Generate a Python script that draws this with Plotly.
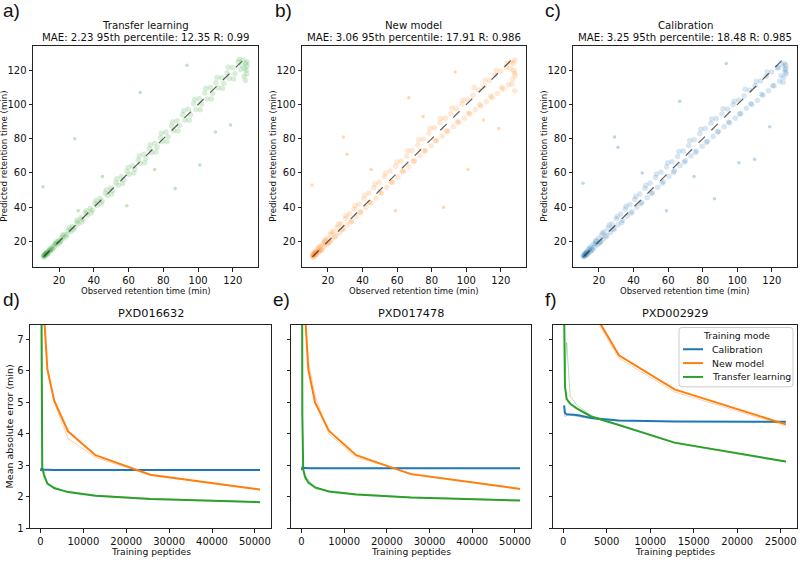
import plotly.graph_objects as go

W, H = 800, 563


def px(x):
    return x / W


def py(y):
    return 1 - y / H


# ---------------- top row: observed vs predicted retention time ----------------
# main band of peptides
OBS = [11.0, 11.2, 11.5, 11.8, 12.0, 12.4, 12.7, 13.0, 13.4, 13.9, 14.3, 14.9, 15.4, 16.0, 16.7, 17.3,
       18.1, 18.9, 19.7, 20.6, 21.5, 22.4, 23.2, 24.5, 25.3, 26.6, 27.5, 28.9, 30.1, 31.0, 32.6, 33.7,
       35.2, 36.3, 37.9, 39.1, 40.7, 41.9, 43.6, 44.8, 46.6, 47.9, 49.6, 50.8, 52.7, 54.0, 55.9, 57.2,
       59.1, 60.4, 62.3, 63.6, 65.5, 66.8, 68.7, 70.0, 71.9, 73.2, 75.1, 76.4, 78.3, 79.6, 81.5, 82.8,
       84.7, 86.0, 87.9, 89.2, 91.1, 92.4, 94.3, 95.6, 97.5, 98.8, 100.7, 102.0, 103.9, 105.2, 107.1,
       108.4, 110.3, 111.6, 113.5, 114.8, 116.7, 118.0, 119.9, 121.2, 123.1, 124.4, 125.9, 126.8,
       127.5, 128.0, 128.3, 127.2,
       12.1, 13.2, 14.6, 16.3, 18.5, 20.1, 22.0, 24.0, 26.0, 28.2, 30.5, 33.0, 35.7, 38.5, 41.3, 44.2,
       47.2, 50.2, 53.3, 56.5, 59.8, 63.0, 66.2, 69.3, 72.5, 75.7, 78.9, 82.1, 85.3, 88.5, 91.7, 94.9,
       98.1, 101.3, 104.5, 107.7, 110.9, 114.1, 117.3, 120.5, 123.7, 126.5, 128.1, 127.7, 125.3,
       11.4, 12.9, 15.1, 17.8, 21.0]

PRED_TL = [11.3, 10.9, 11.9, 11.5, 12.6, 12.1, 13.2, 12.8, 14.0, 13.6, 14.9, 14.6, 16.1, 15.7, 17.5, 16.9,
           19.0, 18.5, 20.6, 20.0, 22.5, 21.8, 24.3, 23.9, 26.5, 25.8, 28.7, 28.0, 31.4, 30.2, 34.0, 32.9,
           36.6, 35.4, 39.3, 38.2, 42.2, 41.0, 45.1, 43.7, 48.2, 46.8, 51.3, 49.8, 54.5, 52.9, 57.8, 56.0,
           61.0, 59.3, 64.3, 62.4, 67.6, 65.5, 70.9, 68.6, 74.2, 71.8, 77.4, 75.1, 80.6, 78.2, 84.0, 81.3,
           87.4, 84.7, 90.6, 87.8, 94.0, 90.9, 97.2, 94.0, 100.5, 97.1, 103.6, 100.2, 106.8, 103.3, 109.9,
           106.4, 112.8, 109.6, 115.6, 112.4, 118.6, 115.2, 121.5, 118.0, 124.8, 120.5, 126.0, 121.0,
           124.0, 118.0, 122.5, 114.0,
           12.9, 12.5, 15.6, 15.5, 19.8, 19.0, 23.6, 22.8, 27.8, 26.8, 32.6, 31.3, 38.0, 36.6, 44.0, 42.0,
           50.2, 47.8, 56.6, 53.8, 63.4, 60.0, 70.0, 66.0, 76.5, 72.2, 83.2, 78.4, 89.8, 84.6, 96.4, 90.8,
           103.0, 97.0, 109.5, 103.2, 115.8, 109.5, 121.8, 115.0, 126.5, 116.5, 125.0, 120.0, 123.0,
           12.0, 13.6, 14.4, 18.6, 20.2]

PRED_NEW = [11.6, 10.8, 12.3, 11.2, 13.0, 11.9, 13.8, 12.5, 14.6, 13.2, 15.6, 14.1, 17.0, 15.2, 18.4, 16.5,
            20.1, 17.9, 21.9, 19.5, 24.0, 21.2, 25.8, 23.4, 28.2, 25.1, 30.4, 27.3, 33.5, 29.8, 36.2, 32.1,
            39.0, 34.6, 41.8, 37.2, 45.0, 39.8, 48.3, 42.5, 51.4, 45.4, 54.6, 48.2, 57.9, 51.5, 61.1, 54.6,
            64.0, 57.6, 66.8, 60.9, 69.9, 63.8, 73.0, 67.0, 76.4, 70.1, 79.8, 73.0, 83.2, 75.9, 86.4, 78.8,
            89.3, 81.6, 92.0, 84.4, 94.6, 87.0, 97.5, 89.6, 100.3, 92.0, 103.0, 94.5, 105.4, 97.0, 108.5,
            99.2, 111.0, 101.6, 114.0, 104.0, 117.2, 106.5, 119.5, 109.0, 121.8, 111.5, 125.0, 115.0,
            120.0, 108.0, 117.0, 124.0,
            13.4, 12.2, 16.4, 15.0, 21.0, 18.6, 25.4, 22.6, 30.0, 26.9, 35.0, 31.2, 41.0, 37.0, 47.0, 42.8,
            53.5, 48.8, 60.0, 54.8, 66.5, 61.0, 73.0, 67.0, 79.5, 73.0, 86.0, 79.0, 92.0, 84.5, 98.0, 90.0,
            102.5, 95.0, 110.0, 100.0, 114.0, 105.0, 120.0, 110.0, 124.0, 112.0, 126.0, 118.5, 121.0,
            12.3, 13.9, 14.2, 19.5, 20.0]

PRED_CAL = [11.5, 11.0, 12.2, 11.4, 12.9, 12.0, 13.7, 12.6, 14.6, 13.4, 15.6, 14.2, 16.9, 15.3, 18.3, 16.6,
            20.0, 18.0, 21.8, 19.6, 23.8, 21.3, 25.6, 23.5, 27.9, 25.3, 30.2, 27.4, 33.3, 29.8, 36.0, 32.2,
            38.8, 34.8, 41.6, 37.4, 44.6, 40.0, 47.8, 42.7, 51.0, 45.5, 54.1, 48.4, 57.4, 51.7, 60.5, 54.9,
            63.6, 58.0, 66.6, 61.2, 69.6, 64.3, 72.8, 67.2, 76.1, 70.0, 79.5, 72.9, 82.9, 75.6, 86.0, 78.5,
            89.0, 81.3, 91.8, 84.3, 94.5, 87.0, 97.4, 89.4, 100.0, 92.0, 102.6, 94.8, 105.2, 97.8, 108.4,
            100.0, 111.2, 102.4, 113.8, 105.5, 116.5, 108.0, 119.0, 111.0, 121.5, 113.6, 123.3, 116.0,
            120.5, 121.0, 118.0, 124.0,
            13.0, 12.4, 16.0, 15.2, 20.6, 18.8, 25.0, 22.8, 29.6, 27.0, 34.6, 31.0, 40.5, 36.5, 46.4, 42.0,
            52.8, 48.0, 59.4, 54.0, 66.0, 60.5, 72.5, 66.5, 79.0, 72.0, 85.5, 78.0, 91.5, 84.0, 97.5, 89.8,
            102.0, 94.5, 109.0, 100.5, 113.5, 106.0, 119.0, 111.0, 121.5, 113.0, 123.0, 119.0, 117.0,
            12.0, 13.6, 14.3, 19.0, 20.0]

# scattered outlier peptides
OUT_OBS = [29.0, 66.7, 93.6, 118.7, 101.0, 86.8, 59.0, 10.8, 45.0, 110.0, 31.0, 75.0]
OUT_TL = [80.0, 107.0, 123.0, 88.0, 64.7, 51.0, 40.8, 52.0, 58.0, 84.0, 38.0, 62.0]
OUT_NEW = [81.0, 104.0, 119.0, 86.0, 62.0, 40.0, 38.0, 53.0, 62.0, 91.0, 71.0, 93.0]
OUT_CAL = [81.0, 102.0, 124.0, 87.0, 66.0, 45.0, 38.0, 54.0, 60.0, 68.0, 75.0, 58.0]

DIAG = [11.0, 129.0]

SCATTER_TITLES = ["Transfer learning", "New model", "Calibration"]
SCATTER_STATS = ["MAE: 2.23 95th percentile: 12.35 R: 0.99",
                 "MAE: 3.06 95th percentile: 17.91 R: 0.986",
                 "MAE: 3.25 95th percentile: 18.48 R: 0.985"]
RT_TICKS = [20, 40, 60, 80, 100, 120]

# ---------------- bottom row: learning curves ----------------
MODES = ["Calibration", "New model", "Transfer learning"]
X_DE = [100, 200, 400, 800, 1600, 3200, 6400, 12800, 25600, 51200]
X_F = [100, 200, 400, 800, 1600, 3200, 6400, 12800, 25600]

D_CAL = [2.82, 2.90, 2.87, 2.86, 2.86, 2.85, 2.85, 2.85, 2.85, 2.85]
D_NEW = [20.0, 15.0, 11.0, 7.8, 6.05, 5.05, 4.08, 3.32, 2.70, 2.23]
D_TL = [12.0, 5.0, 2.95, 2.70, 2.42, 2.28, 2.15, 2.03, 1.93, 1.83]
D_CAL_REP = [2.95, 2.88, 2.86, 2.85, 2.85, 2.84, 2.84, 2.84, 2.84, 2.84]
D_NEW_REP = [19.0, 14.0, 10.5, 7.6, 5.95, 5.0, 3.85, 3.25, 2.68, 2.22]
D_TL_REP = [11.0, 4.2, 3.0, 2.6, 2.45, 2.25, 2.17, 2.05, 1.95, 1.84]

E_CAL = [2.85, 2.95, 2.92, 2.91, 2.91, 2.91, 2.91, 2.91, 2.91, 2.91]
E_NEW = [20.0, 15.0, 11.0, 7.9, 6.04, 4.99, 4.10, 3.32, 2.72, 2.25]
E_TL = [12.0, 4.6, 2.88, 2.65, 2.45, 2.30, 2.17, 2.07, 1.98, 1.88]
E_CAL_REP = [3.0, 2.97, 2.93, 2.92, 2.91, 2.91, 2.90, 2.90, 2.90, 2.90]
E_NEW_REP = [19.0, 14.5, 10.8, 8.1, 6.3, 5.2, 4.0, 3.25, 2.75, 2.26]
E_TL_REP = [11.0, 4.4, 2.95, 2.55, 2.55, 2.25, 2.19, 2.09, 1.99, 1.89]

F_CAL = [4.90, 4.66, 4.62, 4.62, 4.60, 4.50, 4.42, 4.39, 4.38]
F_NEW = [25.0, 20.0, 16.0, 12.5, 10.0, 8.0, 6.49, 5.41, 4.30]
F_TL = [8.0, 5.5, 5.1, 4.95, 4.80, 4.55, 4.28, 3.72, 3.12]
F_CAL_REP = [4.75, 4.55, 4.58, 4.60, 4.55, 4.48, 4.41, 4.39, 4.38]
F_NEW_REP = [24.0, 19.0, 15.0, 12.0, 9.8, 7.9, 6.4, 5.33, 4.25]
F_TL_REP = [7.9, 5.9, 6.9, 5.2, 4.9, 4.58, 4.27, 3.70, 3.10]

CURVE_TITLES = ["PXD016632", "PXD017478", "PXD002929"]
MAE_TICKS = [1, 2, 3, 4, 5, 6, 7]
XT_DE = [0, 10000, 20000, 30000, 40000, 50000]
XT_F = [0, 5000, 10000, 15000, 20000, 25000]

COLORS = {"Calibration": "#1f77b4", "New model": "#ff7f0e", "Transfer learning": "#2ca02c"}
FADED = {"Calibration": "rgba(31,119,180,0.35)", "New model": "rgba(255,127,14,0.35)",
         "Transfer learning": "rgba(44,160,44,0.35)"}
SCAT_RGB = ["44,160,44", "255,127,14", "31,119,180"]

FONT = "DejaVu Sans"

# axis pixel boxes (left, right, top, bottom)
TOP_BOXES = [(33, 258), (302, 526), (573, 797)]
TOP_Y = (46, 270)
BOT_BOXES = [(30, 271), (291, 531), (553, 797)]
BOT_Y = (328, 534)

fig = go.Figure()

preds = [PRED_TL, PRED_NEW, PRED_CAL]
outs = [OUT_TL, OUT_NEW, OUT_CAL]
for i in range(3):
    xa = "x" if i == 0 else f"x{i + 1}"
    ya = "y" if i == 0 else f"y{i + 1}"
    fig.add_trace(go.Scatter(x=OBS, y=preds[i], mode="markers", xaxis=xa, yaxis=ya,
                             marker=dict(size=5.5, color=f"rgba({SCAT_RGB[i]},0.18)", line=dict(width=0)),
                             showlegend=False, hoverinfo="skip"))
    fig.add_trace(go.Scatter(x=OUT_OBS, y=outs[i], mode="markers", xaxis=xa, yaxis=ya,
                             marker=dict(size=3.5, color=f"rgba({SCAT_RGB[i]},0.3)", line=dict(width=0)),
                             showlegend=False, hoverinfo="skip"))
    fig.add_trace(go.Scatter(x=DIAG, y=DIAG, mode="lines", xaxis=xa, yaxis=ya,
                             line=dict(color="rgba(40,40,40,0.75)", width=1.2, dash="dash"),
                             showlegend=False, hoverinfo="skip"))

panels = [
    (X_DE, {"Calibration": (D_CAL, D_CAL_REP), "New model": (D_NEW, D_NEW_REP),
            "Transfer learning": (D_TL, D_TL_REP)}),
    (X_DE, {"Calibration": (E_CAL, E_CAL_REP), "New model": (E_NEW, E_NEW_REP),
            "Transfer learning": (E_TL, E_TL_REP)}),
    (X_F, {"Calibration": (F_CAL, F_CAL_REP), "New model": (F_NEW, F_NEW_REP),
           "Transfer learning": (F_TL, F_TL_REP)}),
]
for j, (xs, series) in enumerate(panels):
    xa = f"x{j + 4}"
    ya = f"y{j + 4}"
    for m in MODES:
        main, rep = series[m]
        fig.add_trace(go.Scatter(x=xs, y=rep, mode="lines", xaxis=xa, yaxis=ya,
                                 line=dict(color=FADED[m], width=1), showlegend=False,
                                 hoverinfo="skip"))
    for m in MODES:
        main, rep = series[m]
        fig.add_trace(go.Scatter(x=xs, y=main, mode="lines", xaxis=xa, yaxis=ya, name=m,
                                 line=dict(color=COLORS[m], width=2), showlegend=False))

axis_common = dict(showline=True, linecolor="#222", linewidth=1, mirror=True, ticks="outside",
                   ticklen=3.5, tickcolor="#222", showgrid=False, zeroline=False,
                   tickfont=dict(family=FONT, size=10, color="#111"))

layout = dict(width=W, height=H, margin=dict(l=0, r=0, t=0, b=0), plot_bgcolor="white",
              paper_bgcolor="white", font=dict(family=FONT, color="#111"), showlegend=False)

for i, (l, r) in enumerate(TOP_BOXES):
    k = "" if i == 0 else str(i + 1)
    layout[f"xaxis{k}"] = dict(axis_common, domain=[px(l), px(r)], range=[5, 134.5],
                               tickvals=RT_TICKS, anchor=f"y{k}")
    layout[f"yaxis{k}"] = dict(axis_common, domain=[py(TOP_Y[1]), py(TOP_Y[0])], range=[5, 134.5],
                               tickvals=RT_TICKS, anchor=f"x{k}")

for j, (l, r) in enumerate(BOT_BOXES):
    k = str(j + 4)
    xr = [-2455, 53755] if j < 2 else [-1175, 26875]
    layout[f"xaxis{k}"] = dict(axis_common, domain=[px(l), px(r)], range=xr,
                               tickvals=XT_DE if j < 2 else XT_F, tickformat="d", anchor=f"y{k}")
    layout[f"yaxis{k}"] = dict(axis_common, domain=[py(BOT_Y[1]), py(BOT_Y[0])], range=[1, 7.47],
                               tickvals=MAE_TICKS, showticklabels=(j == 0), anchor=f"x{k}")

ann = []
shapes = []


def text(x, y, t, size, **kw):
    d = dict(x=px(x), y=py(y), xref="paper", yref="paper", text=t, showarrow=False,
             font=dict(family=FONT, size=size, color="#111"), xanchor="center", yanchor="middle")
    d.update(kw)
    ann.append(d)


for i, (l, r) in enumerate(TOP_BOXES):
    c = (l + r) / 2
    text(c, 25.5, SCATTER_TITLES[i], 10.2)
    text(c, 37.5, SCATTER_STATS[i], 10.2)
    text(c, 294.5, "Observed retention time (min)", 8.5, borderpad=0)
    text(l - 28.5, (TOP_Y[0] + TOP_Y[1]) / 2, "Predicted retention time (min)", 8.7, textangle=-90)

for j, (l, r) in enumerate(BOT_BOXES):
    c = (l + r) / 2
    text(c, 317, CURVE_TITLES[j], 11.3)
    text(c, 557.5, "Training peptides", 9.2, borderpad=0)
text(9, (BOT_Y[0] + BOT_Y[1]) / 2, "Mean absolute error (min)", 9.5, textangle=-90)

for lab, x, y in [("a)", 1, 11), ("b)", 273, 11), ("c)", 543, 11),
                  ("d)", 1, 303), ("e)", 271, 303), ("f)", 543, 303)]:
    text(x, y, lab, 19, xanchor="left", font=dict(family="Liberation Sans", size=19, color="#111"))

# legend (drawn in panel f, upper right)
LX0, LX1, LY0, LY1 = 679, 793, 331, 391
rx, ry = 3 / W, 3 / H
x0, x1, y0, y1 = px(LX0), px(LX1), py(LY0), py(LY1)
path = (f"M {x0 + rx},{y0} L {x1 - rx},{y0} Q {x1},{y0} {x1},{y0 - ry} "
        f"L {x1},{y1 + ry} Q {x1},{y1} {x1 - rx},{y1} L {x0 + rx},{y1} Q {x0},{y1} {x0},{y1 + ry} "
        f"L {x0},{y0 - ry} Q {x0},{y0} {x0 + rx},{y0} Z")
shapes.append(dict(type="path", path=path, xref="paper", yref="paper",
                   fillcolor="rgba(255,255,255,0.85)", line=dict(color="#cccccc", width=1)))
text((LX0 + LX1) / 2, 339.5, "Training mode", 9.3)
for n, m in enumerate(MODES):
    yy = 353 + 14 * n
    shapes.append(dict(type="line", xref="paper", yref="paper", x0=px(683), x1=px(703),
                       y0=py(yy), y1=py(yy), line=dict(color=COLORS[m], width=2)))
    text(710, yy, m, 9.3, xanchor="left")

layout["annotations"] = ann
layout["shapes"] = shapes
fig.update_layout(**layout)
fig.write_html("out.html")
